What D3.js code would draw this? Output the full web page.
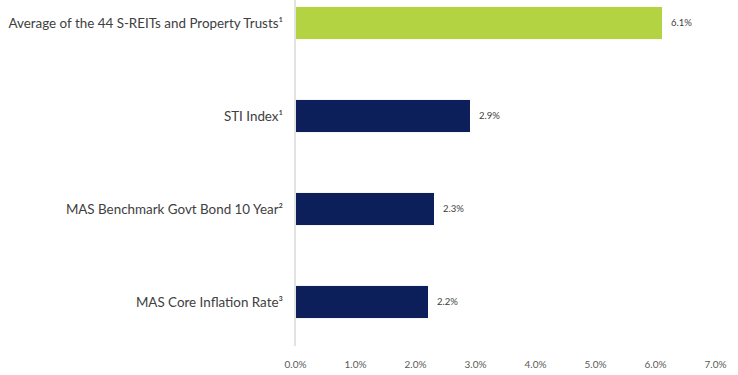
<!DOCTYPE html>
<html><head><meta charset="utf-8">
<script src="https://cdn.jsdelivr.net/npm/d3@7"></script>
<style>body{margin:0;background:#fff}svg{display:block}</style>
</head><body>
<svg id="c" width="738" height="375"></svg>
<script>
const categories = ["Average of the 44 S-REITs and Property Trusts¹","STI Index¹","MAS Benchmark Govt Bond 10 Year²","MAS Core Inflation Rate³"];
const values = [6.1, 2.9, 2.3, 2.2];
const colors = ["#b3d343","#0c1f5b","#0c1f5b","#0c1f5b"];
const tickValues = [0,1,2,3,4,5,6,7];

const svg = d3.select("#c");
const font = "Lato, 'Open Sans', sans-serif";
const x = d3.scaleLinear().domain([0,7]).range([295,715]);
const y = d3.scaleBand().domain(categories).range([-23.5,348.5]).paddingInner(0.655).paddingOuter(0.3275);

svg.append("line").attr("x1",x(0)).attr("x2",x(0)).attr("y1",0).attr("y2",346)
  .attr("stroke","#d9d9d9").attr("stroke-width",1.5);

svg.selectAll("rect.bar").data(values).join("rect").attr("class","bar")
  .attr("x",x(0)+1).attr("y",(d,i)=>y(categories[i]))
  .attr("width",d=>x(d)-x(0)).attr("height",y.bandwidth())
  .attr("fill",(d,i)=>colors[i]);

svg.selectAll("text.val").data(values).join("text").attr("class","val")
  .attr("x",d=>x(d)+10).attr("y",(d,i)=>y(categories[i])+y.bandwidth()/2)
  .attr("dy","0.35em").attr("font-family",font).attr("font-size",9.5).attr("fill","#404040")
  .text(d=>d.toFixed(1)+"%");

svg.selectAll("text.cat").data(categories).join("text").attr("class","cat")
  .attr("x",283).attr("y",d=>y(d)+y.bandwidth()/2)
  .attr("dy","0.35em").attr("text-anchor","end").attr("font-family",font).attr("font-size",13.4).attr("fill","#404040")
  .text(d=>d);

const ax = svg.append("g").attr("transform","translate(0,358)")
  .call(d3.axisBottom(x).tickValues(tickValues).tickFormat(d=>d.toFixed(1)+"%").tickSize(0));
ax.select(".domain").remove();
ax.selectAll("text").attr("font-family",font).attr("font-size",10).attr("fill","#595959");
</script>
</body></html>
